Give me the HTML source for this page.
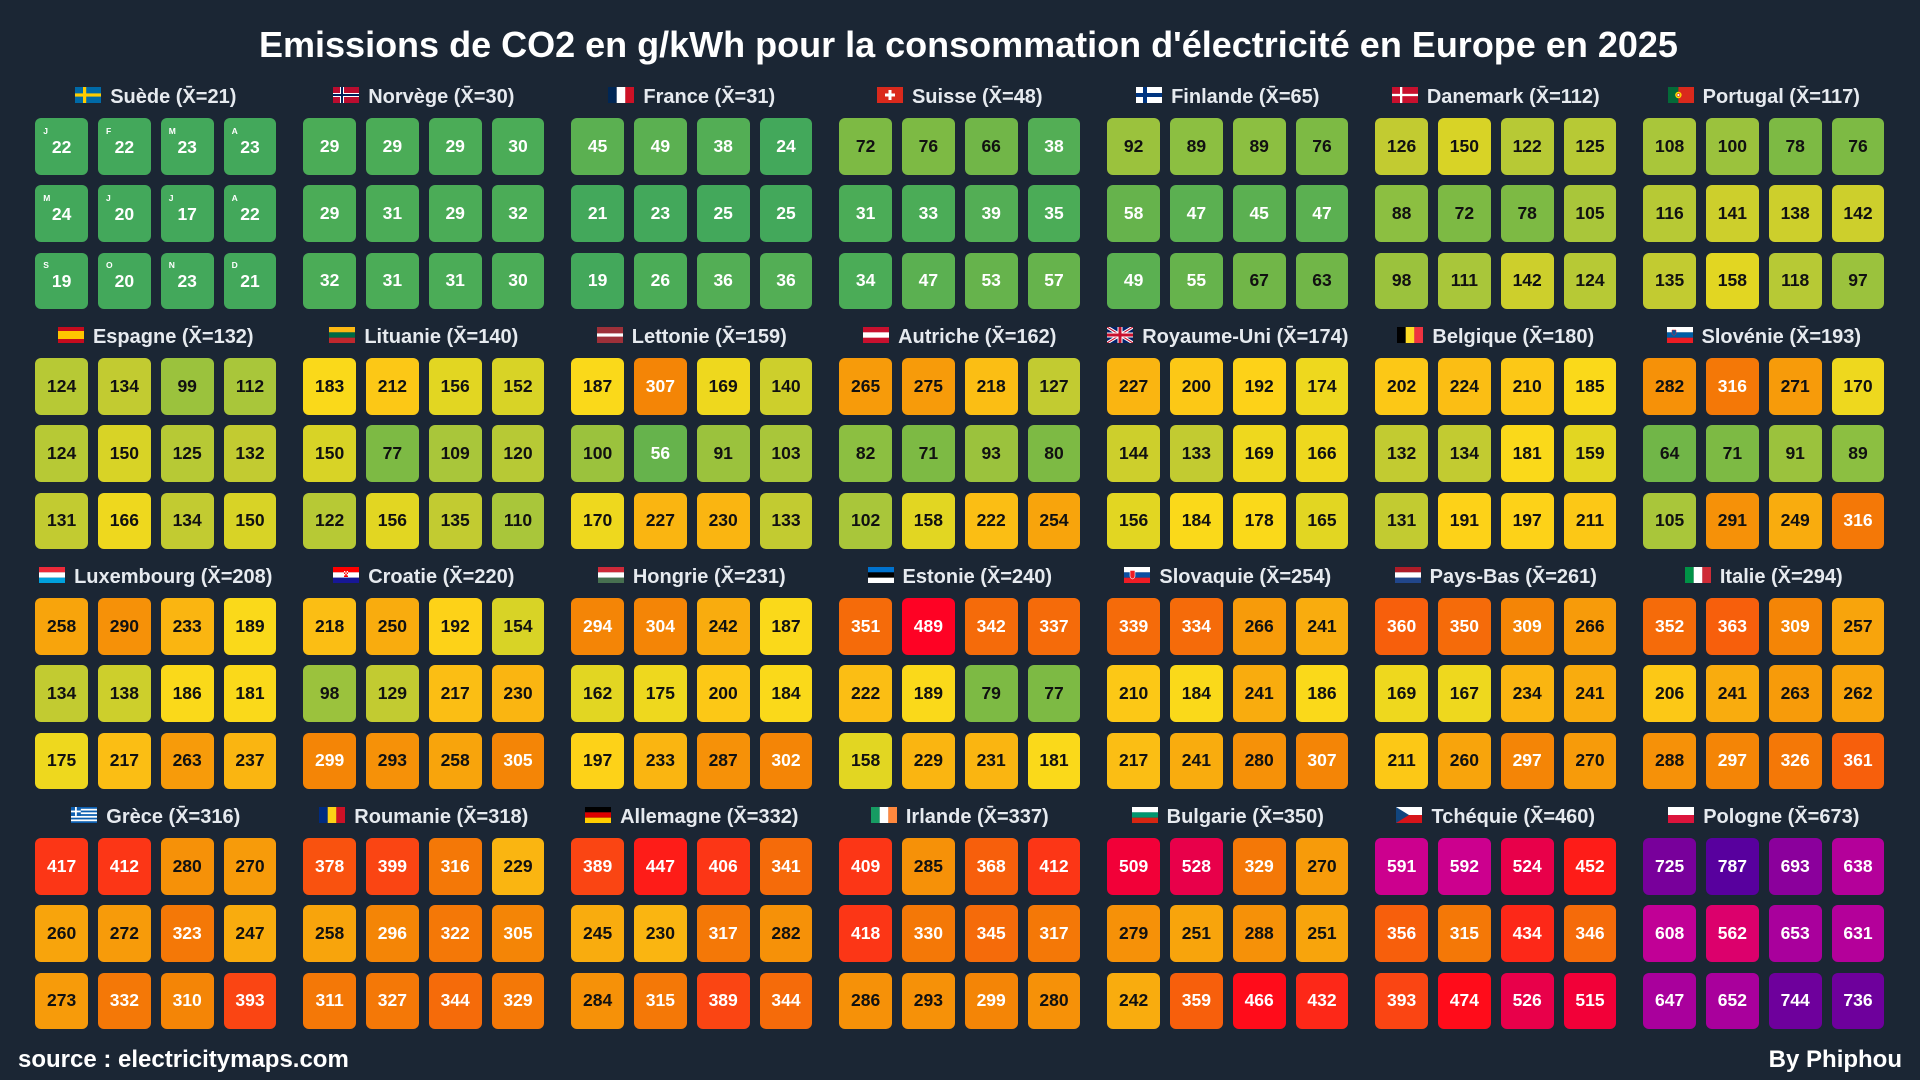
<!DOCTYPE html>
<html><head><meta charset="utf-8"><style>
html,body{margin:0;padding:0}
body{width:1920px;height:1080px;background:#1b2634;position:relative;overflow:hidden;font-family:"Liberation Sans",Arial,sans-serif;font-weight:bold}
.t{position:absolute;left:259px;top:27px;font-size:36px;line-height:36px;color:#fff;white-space:nowrap}
.h{position:absolute;width:241.2px;text-align:center;font-size:20px;line-height:20px;color:#e6eaef;white-space:nowrap}
.h svg{display:inline-block;vertical-align:baseline;width:26px;height:16px;margin-right:9px}
.g{position:absolute;width:241.2px;display:grid;grid-template-columns:repeat(4,52.8px);grid-auto-rows:56.7px;column-gap:10px;row-gap:10.5px}
.g i{font-style:normal;border-radius:6px;display:flex;align-items:center;justify-content:center;font-size:17.5px;line-height:1;color:#111;position:relative;box-sizing:border-box}
.sw i{padding-top:2px}
.sw em{position:absolute;left:8px;top:8.6px;font-size:8.5px;line-height:8.5px;font-style:normal;color:#fff}
.f{position:absolute;top:1048px;font-size:24px;line-height:24px;color:#fff;white-space:nowrap}
.a{background:#43a85b}.b{background:#4bac57}.c{background:#53ae55}.d{background:#5bb051}.e{background:#66b34c}
.f1{background:#71b648}.g1{background:#7dba44}.h1{background:#8cbf41}.i1{background:#9bc23d}.j{background:#a9c63a}
.k{background:#b7c935}.l{background:#c2cb31}.m{background:#cdcf2c}.n{background:#d8d326}.o{background:#e2d622}
.p{background:#eed81e}.q{background:#fad91a}.r{background:#fdd218}.s{background:#fcc816}.t1{background:#fbbe14}
.u{background:#fab511}.v{background:#f9ac0e}.w{background:#f8a40c}.x{background:#f79b0a}.y{background:#f69108}
.z{background:#f48506}.A{background:#f47807}.B{background:#f56b0a}.C{background:#f75f0c}.D{background:#f9520f}
.E{background:#fa4513}.F{background:#fc3616}.G{background:#fd2818}.H{background:#fe1c18}.I{background:#ff0c1a}
.J{background:#fe0224}.K{background:#f20038}.L{background:#e8004a}.M{background:#dc006c}.N{background:#cc008e}
.O{background:#c10096}.P{background:#b4009a}.Q{background:#a9009c}.R{background:#8b009c}.S{background:#78009b}
.T{background:#6e009c}.U{background:#58009e}
.g i.a,.g i.b,.g i.c,.g i.d,.g i.e,.g i.z,.g i.A,.g i.B,.g i.C,.g i.D,.g i.E,.g i.F,.g i.G,.g i.H,.g i.I,.g i.J,.g i.K,.g i.L,.g i.M,.g i.N,.g i.O,.g i.P,.g i.Q,.g i.R,.g i.S,.g i.T,.g i.U{color:#fff}
</style></head><body>
<div class="t">Emissions de CO2 en g/kWh pour la consommation d'électricité en Europe en 2025</div>

<!-- Row 0 -->
<div class="h" style="left:35.2px;top:87.1px"><svg viewBox="0 0 26 16" preserveAspectRatio="none"><rect width="26" height="16" fill="#006aa7"/><rect x="8" width="3.2" height="16" fill="#fecc00"/><rect y="6.4" width="26" height="3.2" fill="#fecc00"/></svg>Suède (X̄=21)</div>
<div class="g sw" style="left:35.2px;top:118.3px"><i class="a"><em>J</em>22</i><i class="a"><em>F</em>22</i><i class="a"><em>M</em>23</i><i class="a"><em>A</em>23</i><i class="a"><em>M</em>24</i><i class="a"><em>J</em>20</i><i class="a"><em>J</em>17</i><i class="a"><em>A</em>22</i><i class="a"><em>S</em>19</i><i class="a"><em>O</em>20</i><i class="a"><em>N</em>23</i><i class="a"><em>D</em>21</i></div>

<div class="h" style="left:303.2px;top:87.1px"><svg viewBox="0 0 26 16" preserveAspectRatio="none"><rect width="26" height="16" fill="#ba0c2f"/><rect x="7" width="4" height="16" fill="#fff"/><rect y="6" width="26" height="4" fill="#fff"/><rect x="8" width="2" height="16" fill="#00205b"/><rect y="7" width="26" height="2" fill="#00205b"/></svg>Norvège (X̄=30)</div>
<div class="g" style="left:303.2px;top:118.3px"><i class="b">29</i><i class="b">29</i><i class="b">29</i><i class="b">30</i><i class="b">29</i><i class="b">31</i><i class="b">29</i><i class="b">32</i><i class="b">32</i><i class="b">31</i><i class="b">31</i><i class="b">30</i></div>

<div class="h" style="left:571.2px;top:87.1px"><svg viewBox="0 0 26 16" preserveAspectRatio="none"><rect width="8.7" height="16" fill="#002654"/><rect x="8.7" width="8.7" height="16" fill="#fff"/><rect x="17.3" width="8.7" height="16" fill="#ce1126"/></svg>France (X̄=31)</div>
<div class="g" style="left:571.2px;top:118.3px"><i class="d">45</i><i class="d">49</i><i class="c">38</i><i class="a">24</i><i class="a">21</i><i class="a">23</i><i class="a">25</i><i class="a">25</i><i class="a">19</i><i class="b">26</i><i class="c">36</i><i class="c">36</i></div>

<div class="h" style="left:839.2px;top:87.1px"><svg viewBox="0 0 26 16" preserveAspectRatio="none"><rect width="26" height="16" fill="#da291c"/><rect x="11.5" y="3" width="3" height="10" fill="#fff"/><rect x="8" y="6.5" width="10" height="3" fill="#fff"/></svg>Suisse (X̄=48)</div>
<div class="g" style="left:839.2px;top:118.3px"><i class="g1">72</i><i class="g1">76</i><i class="f1">66</i><i class="c">38</i><i class="b">31</i><i class="b">33</i><i class="c">39</i><i class="b">35</i><i class="b">34</i><i class="d">47</i><i class="e">53</i><i class="e">57</i></div>

<div class="h" style="left:1107.2px;top:87.1px"><svg viewBox="0 0 26 16" preserveAspectRatio="none"><rect width="26" height="16" fill="#fff"/><rect x="7" width="4" height="16" fill="#003580"/><rect y="6" width="26" height="4" fill="#003580"/></svg>Finlande (X̄=65)</div>
<div class="g" style="left:1107.2px;top:118.3px"><i class="i1">92</i><i class="h1">89</i><i class="h1">89</i><i class="g1">76</i><i class="e">58</i><i class="d">47</i><i class="d">45</i><i class="d">47</i><i class="d">49</i><i class="e">55</i><i class="f1">67</i><i class="f1">63</i></div>

<div class="h" style="left:1375.2px;top:87.1px"><svg viewBox="0 0 26 16" preserveAspectRatio="none"><rect width="26" height="16" fill="#c8102e"/><rect x="8" width="2.3" height="16" fill="#fff"/><rect y="6.85" width="26" height="2.3" fill="#fff"/></svg>Danemark (X̄=112)</div>
<div class="g" style="left:1375.2px;top:118.3px"><i class="l">126</i><i class="n">150</i><i class="k">122</i><i class="k">125</i><i class="h1">88</i><i class="g1">72</i><i class="g1">78</i><i class="j">105</i><i class="i1">98</i><i class="j">111</i><i class="m">142</i><i class="k">124</i></div>

<div class="h" style="left:1643.2px;top:87.1px"><svg viewBox="0 0 26 16" preserveAspectRatio="none"><rect width="10.4" height="16" fill="#046a38"/><rect x="10.4" width="15.6" height="16" fill="#da291c"/><circle cx="10.4" cy="8" r="3.2" fill="#ffe000"/><circle cx="10.4" cy="8" r="1.8" fill="#da291c"/><circle cx="10.4" cy="8" r="1.1" fill="#fff"/></svg>Portugal (X̄=117)</div>
<div class="g" style="left:1643.2px;top:118.3px"><i class="j">108</i><i class="i1">100</i><i class="g1">78</i><i class="g1">76</i><i class="k">116</i><i class="m">141</i><i class="m">138</i><i class="m">142</i><i class="l">135</i><i class="o">158</i><i class="k">118</i><i class="i1">97</i></div>

<!-- Row 1 -->
<div class="h" style="left:35.2px;top:327.1px"><svg viewBox="0 0 26 16" preserveAspectRatio="none"><rect width="26" height="16" fill="#c60b1e"/><rect y="4" width="26" height="8" fill="#ffc400"/></svg>Espagne (X̄=132)</div>
<div class="g" style="left:35.2px;top:358.3px"><i class="k">124</i><i class="l">134</i><i class="i1">99</i><i class="j">112</i><i class="k">124</i><i class="n">150</i><i class="k">125</i><i class="l">132</i><i class="l">131</i><i class="p">166</i><i class="l">134</i><i class="n">150</i></div>

<div class="h" style="left:303.2px;top:327.1px"><svg viewBox="0 0 26 16" preserveAspectRatio="none"><rect width="26" height="5.4" fill="#fdb913"/><rect y="5.33" width="26" height="5.4" fill="#006a44"/><rect y="10.67" width="26" height="5.33" fill="#c1272d"/></svg>Lituanie (X̄=140)</div>
<div class="g" style="left:303.2px;top:358.3px"><i class="q">183</i><i class="s">212</i><i class="o">156</i><i class="n">152</i><i class="n">150</i><i class="g1">77</i><i class="j">109</i><i class="k">120</i><i class="k">122</i><i class="o">156</i><i class="l">135</i><i class="j">110</i></div>

<div class="h" style="left:571.2px;top:327.1px"><svg viewBox="0 0 26 16" preserveAspectRatio="none"><rect width="26" height="16" fill="#9e3039"/><rect y="6.4" width="26" height="3.2" fill="#fff"/></svg>Lettonie (X̄=159)</div>
<div class="g" style="left:571.2px;top:358.3px"><i class="q">187</i><i class="z">307</i><i class="p">169</i><i class="m">140</i><i class="i1">100</i><i class="e">56</i><i class="i1">91</i><i class="j">103</i><i class="p">170</i><i class="u">227</i><i class="u">230</i><i class="l">133</i></div>

<div class="h" style="left:839.2px;top:327.1px"><svg viewBox="0 0 26 16" preserveAspectRatio="none"><rect width="26" height="16" fill="#c8102e"/><rect y="5.33" width="26" height="5.34" fill="#fff"/></svg>Autriche (X̄=162)</div>
<div class="g" style="left:839.2px;top:358.3px"><i class="x">265</i><i class="x">275</i><i class="t1">218</i><i class="l">127</i><i class="h1">82</i><i class="g1">71</i><i class="i1">93</i><i class="g1">80</i><i class="j">102</i><i class="o">158</i><i class="t1">222</i><i class="w">254</i></div>

<div class="h" style="left:1107.2px;top:327.1px"><svg viewBox="0 0 26 16" preserveAspectRatio="none"><rect width="26" height="16" fill="#012169"/><path d="M0,0L26,16M26,0L0,16" stroke="#fff" stroke-width="3.2"/><path d="M0,0L26,16M26,0L0,16" stroke="#c8102e" stroke-width="1.1"/><rect x="10.5" width="5" height="16" fill="#fff"/><rect y="5.5" width="26" height="5" fill="#fff"/><rect x="11.5" width="3" height="16" fill="#c8102e"/><rect y="6.5" width="26" height="3" fill="#c8102e"/></svg>Royaume-Uni (X̄=174)</div>
<div class="g" style="left:1107.2px;top:358.3px"><i class="u">227</i><i class="s">200</i><i class="r">192</i><i class="p">174</i><i class="m">144</i><i class="l">133</i><i class="p">169</i><i class="p">166</i><i class="o">156</i><i class="q">184</i><i class="q">178</i><i class="o">165</i></div>

<div class="h" style="left:1375.2px;top:327.1px"><svg viewBox="0 0 26 16" preserveAspectRatio="none"><rect width="8.7" height="16" fill="#000"/><rect x="8.7" width="8.7" height="16" fill="#fdda24"/><rect x="17.3" width="8.7" height="16" fill="#ef3340"/></svg>Belgique (X̄=180)</div>
<div class="g" style="left:1375.2px;top:358.3px"><i class="s">202</i><i class="t1">224</i><i class="s">210</i><i class="q">185</i><i class="l">132</i><i class="l">134</i><i class="q">181</i><i class="o">159</i><i class="l">131</i><i class="r">191</i><i class="r">197</i><i class="s">211</i></div>

<div class="h" style="left:1643.2px;top:327.1px"><svg viewBox="0 0 26 16" preserveAspectRatio="none"><rect width="26" height="5.4" fill="#fff"/><rect y="5.33" width="26" height="5.4" fill="#005da4"/><rect y="10.67" width="26" height="5.33" fill="#ed1c24"/><path d="M5,3h4v4l-2,1.5l-2,-1.5z" fill="#005da4" stroke="#ed1c24" stroke-width=".5"/></svg>Slovénie (X̄=193)</div>
<div class="g" style="left:1643.2px;top:358.3px"><i class="y">282</i><i class="A">316</i><i class="x">271</i><i class="p">170</i><i class="f1">64</i><i class="g1">71</i><i class="i1">91</i><i class="h1">89</i><i class="j">105</i><i class="y">291</i><i class="v">249</i><i class="A">316</i></div>

<!-- Row 2 -->
<div class="h" style="left:35.2px;top:567.1px"><svg viewBox="0 0 26 16" preserveAspectRatio="none"><rect width="26" height="5.4" fill="#ed2939"/><rect y="5.33" width="26" height="5.4" fill="#fff"/><rect y="10.67" width="26" height="5.33" fill="#00a1de"/></svg>Luxembourg (X̄=208)</div>
<div class="g" style="left:35.2px;top:598.3px"><i class="w">258</i><i class="y">290</i><i class="u">233</i><i class="q">189</i><i class="l">134</i><i class="m">138</i><i class="q">186</i><i class="q">181</i><i class="p">175</i><i class="t1">217</i><i class="x">263</i><i class="u">237</i></div>

<div class="h" style="left:303.2px;top:567.1px"><svg viewBox="0 0 26 16" preserveAspectRatio="none"><rect width="26" height="5.4" fill="#ff0000"/><rect y="5.33" width="26" height="5.4" fill="#fff"/><rect y="10.67" width="26" height="5.33" fill="#171796"/><rect x="11" y="4" width="4" height="6" fill="#ff0000"/><rect x="11" y="4" width="1.3" height="1.5" fill="#fff"/><rect x="13.7" y="4" width="1.3" height="1.5" fill="#fff"/><rect x="12.3" y="5.5" width="1.4" height="1.5" fill="#fff"/><rect x="11" y="7" width="1.3" height="1.5" fill="#fff"/><rect x="13.7" y="7" width="1.3" height="1.5" fill="#fff"/></svg>Croatie (X̄=220)</div>
<div class="g" style="left:303.2px;top:598.3px"><i class="t1">218</i><i class="v">250</i><i class="r">192</i><i class="n">154</i><i class="i1">98</i><i class="l">129</i><i class="t1">217</i><i class="u">230</i><i class="z">299</i><i class="y">293</i><i class="w">258</i><i class="z">305</i></div>

<div class="h" style="left:571.2px;top:567.1px"><svg viewBox="0 0 26 16" preserveAspectRatio="none"><rect width="26" height="5.4" fill="#ce2939"/><rect y="5.33" width="26" height="5.4" fill="#fff"/><rect y="10.67" width="26" height="5.33" fill="#477050"/></svg>Hongrie (X̄=231)</div>
<div class="g" style="left:571.2px;top:598.3px"><i class="z">294</i><i class="z">304</i><i class="v">242</i><i class="q">187</i><i class="o">162</i><i class="p">175</i><i class="s">200</i><i class="q">184</i><i class="r">197</i><i class="u">233</i><i class="y">287</i><i class="z">302</i></div>

<div class="h" style="left:839.2px;top:567.1px"><svg viewBox="0 0 26 16" preserveAspectRatio="none"><rect width="26" height="5.4" fill="#0072ce"/><rect y="5.33" width="26" height="5.4" fill="#000"/><rect y="10.67" width="26" height="5.33" fill="#fff"/></svg>Estonie (X̄=240)</div>
<div class="g" style="left:839.2px;top:598.3px"><i class="B">351</i><i class="J">489</i><i class="B">342</i><i class="B">337</i><i class="t1">222</i><i class="q">189</i><i class="g1">79</i><i class="g1">77</i><i class="o">158</i><i class="u">229</i><i class="u">231</i><i class="q">181</i></div>

<div class="h" style="left:1107.2px;top:567.1px"><svg viewBox="0 0 26 16" preserveAspectRatio="none"><rect width="26" height="5.4" fill="#fff"/><rect y="5.33" width="26" height="5.4" fill="#0b4ea2"/><rect y="10.67" width="26" height="5.33" fill="#ee1c25"/><path d="M6,3.5h5v5.5c0,2-2.5,3-2.5,3s-2.5,-1-2.5,-3z" fill="#ee1c25" stroke="#fff" stroke-width=".6"/></svg>Slovaquie (X̄=254)</div>
<div class="g" style="left:1107.2px;top:598.3px"><i class="B">339</i><i class="B">334</i><i class="x">266</i><i class="v">241</i><i class="s">210</i><i class="q">184</i><i class="v">241</i><i class="q">186</i><i class="t1">217</i><i class="v">241</i><i class="y">280</i><i class="z">307</i></div>

<div class="h" style="left:1375.2px;top:567.1px"><svg viewBox="0 0 26 16" preserveAspectRatio="none"><rect width="26" height="5.4" fill="#ae1c28"/><rect y="5.33" width="26" height="5.4" fill="#fff"/><rect y="10.67" width="26" height="5.33" fill="#21468b"/></svg>Pays-Bas (X̄=261)</div>
<div class="g" style="left:1375.2px;top:598.3px"><i class="C">360</i><i class="B">350</i><i class="z">309</i><i class="x">266</i><i class="p">169</i><i class="p">167</i><i class="u">234</i><i class="v">241</i><i class="s">211</i><i class="w">260</i><i class="z">297</i><i class="x">270</i></div>

<div class="h" style="left:1643.2px;top:567.1px"><svg viewBox="0 0 26 16" preserveAspectRatio="none"><rect width="8.7" height="16" fill="#009246"/><rect x="8.7" width="8.7" height="16" fill="#fff"/><rect x="17.3" width="8.7" height="16" fill="#ce2b37"/></svg>Italie (X̄=294)</div>
<div class="g" style="left:1643.2px;top:598.3px"><i class="B">352</i><i class="C">363</i><i class="z">309</i><i class="w">257</i><i class="s">206</i><i class="v">241</i><i class="x">263</i><i class="w">262</i><i class="y">288</i><i class="z">297</i><i class="A">326</i><i class="C">361</i></div>

<!-- Row 3 -->
<div class="h" style="left:35.2px;top:807.1px"><svg viewBox="0 0 26 16" preserveAspectRatio="none"><rect width="26" height="16" fill="#0d5eaf"/><rect y="1.78" width="26" height="1.78" fill="#fff"/><rect y="5.33" width="26" height="1.78" fill="#fff"/><rect y="8.89" width="26" height="1.78" fill="#fff"/><rect y="12.44" width="26" height="1.78" fill="#fff"/><rect width="9.8" height="8.9" fill="#0d5eaf"/><rect x="4" width="1.8" height="8.9" fill="#fff"/><rect y="3.56" width="9.8" height="1.78" fill="#fff"/></svg>Grèce (X̄=316)</div>
<div class="g" style="left:35.2px;top:838.3px"><i class="F">417</i><i class="F">412</i><i class="y">280</i><i class="x">270</i><i class="w">260</i><i class="x">272</i><i class="A">323</i><i class="v">247</i><i class="x">273</i><i class="A">332</i><i class="z">310</i><i class="E">393</i></div>

<div class="h" style="left:303.2px;top:807.1px"><svg viewBox="0 0 26 16" preserveAspectRatio="none"><rect width="8.7" height="16" fill="#002b7f"/><rect x="8.7" width="8.7" height="16" fill="#fcd116"/><rect x="17.3" width="8.7" height="16" fill="#ce1126"/></svg>Roumanie (X̄=318)</div>
<div class="g" style="left:303.2px;top:838.3px"><i class="D">378</i><i class="E">399</i><i class="A">316</i><i class="u">229</i><i class="w">258</i><i class="z">296</i><i class="A">322</i><i class="z">305</i><i class="A">311</i><i class="A">327</i><i class="B">344</i><i class="A">329</i></div>

<div class="h" style="left:571.2px;top:807.1px"><svg viewBox="0 0 26 16" preserveAspectRatio="none"><rect width="26" height="5.4" fill="#000"/><rect y="5.33" width="26" height="5.4" fill="#dd0000"/><rect y="10.67" width="26" height="5.33" fill="#ffce00"/></svg>Allemagne (X̄=332)</div>
<div class="g" style="left:571.2px;top:838.3px"><i class="E">389</i><i class="H">447</i><i class="F">406</i><i class="B">341</i><i class="v">245</i><i class="u">230</i><i class="A">317</i><i class="y">282</i><i class="y">284</i><i class="A">315</i><i class="E">389</i><i class="B">344</i></div>

<div class="h" style="left:839.2px;top:807.1px"><svg viewBox="0 0 26 16" preserveAspectRatio="none"><rect width="8.7" height="16" fill="#169b62"/><rect x="8.7" width="8.7" height="16" fill="#fff"/><rect x="17.3" width="8.7" height="16" fill="#ff883e"/></svg>Irlande (X̄=337)</div>
<div class="g" style="left:839.2px;top:838.3px"><i class="F">409</i><i class="y">285</i><i class="C">368</i><i class="F">412</i><i class="F">418</i><i class="A">330</i><i class="B">345</i><i class="A">317</i><i class="y">286</i><i class="y">293</i><i class="z">299</i><i class="y">280</i></div>

<div class="h" style="left:1107.2px;top:807.1px"><svg viewBox="0 0 26 16" preserveAspectRatio="none"><rect width="26" height="5.4" fill="#fff"/><rect y="5.33" width="26" height="5.4" fill="#00966e"/><rect y="10.67" width="26" height="5.33" fill="#d62612"/></svg>Bulgarie (X̄=350)</div>
<div class="g" style="left:1107.2px;top:838.3px"><i class="K">509</i><i class="L">528</i><i class="A">329</i><i class="x">270</i><i class="y">279</i><i class="w">251</i><i class="y">288</i><i class="w">251</i><i class="v">242</i><i class="C">359</i><i class="I">466</i><i class="G">432</i></div>

<div class="h" style="left:1375.2px;top:807.1px"><svg viewBox="0 0 26 16" preserveAspectRatio="none"><rect width="26" height="8" fill="#fff"/><rect y="8" width="26" height="8" fill="#d7141a"/><path d="M0,0L13,8L0,16z" fill="#11457e"/></svg>Tchéquie (X̄=460)</div>
<div class="g" style="left:1375.2px;top:838.3px"><i class="N">591</i><i class="N">592</i><i class="L">524</i><i class="H">452</i><i class="C">356</i><i class="A">315</i><i class="G">434</i><i class="B">346</i><i class="E">393</i><i class="I">474</i><i class="L">526</i><i class="K">515</i></div>

<div class="h" style="left:1643.2px;top:807.1px"><svg viewBox="0 0 26 16" preserveAspectRatio="none"><rect width="26" height="8" fill="#fff"/><rect y="8" width="26" height="8" fill="#dc143c"/></svg>Pologne (X̄=673)</div>
<div class="g" style="left:1643.2px;top:838.3px"><i class="S">725</i><i class="U">787</i><i class="R">693</i><i class="P">638</i><i class="O">608</i><i class="M">562</i><i class="Q">653</i><i class="P">631</i><i class="Q">647</i><i class="Q">652</i><i class="T">744</i><i class="T">736</i></div>

<div class="f" style="left:18px">source : electricitymaps.com</div>
<div class="f" style="right:18px">By Phiphou</div>
</body></html>
